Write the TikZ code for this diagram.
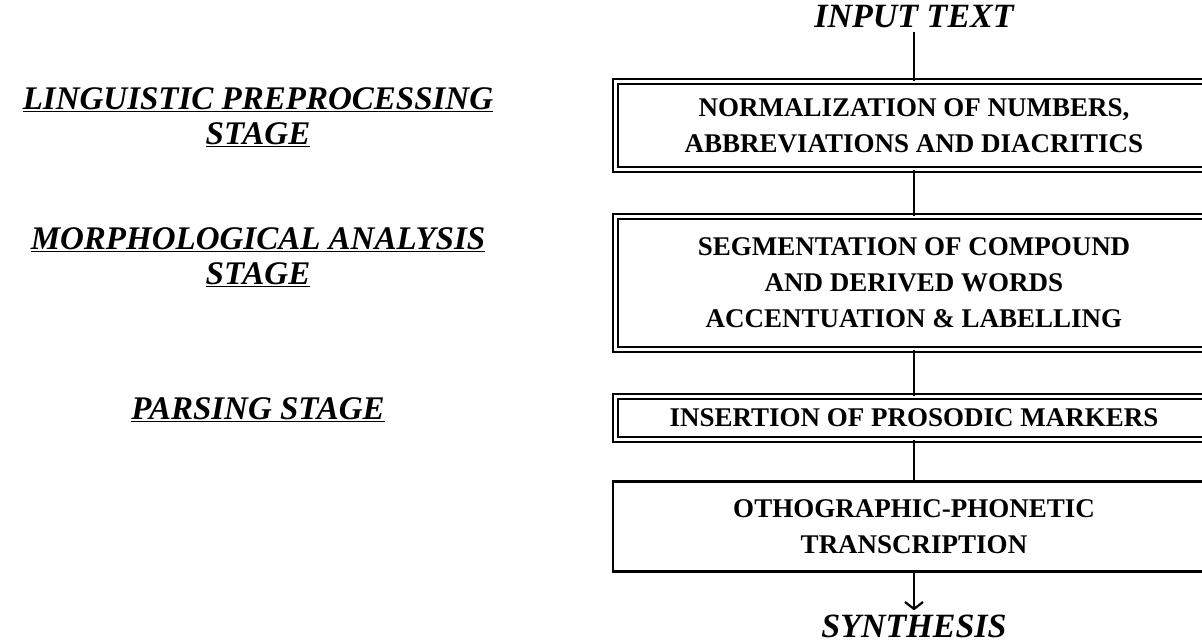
\documentclass[tikz,border=0pt]{standalone}
\usepackage{fontspec}
\setmainfont{Liberation Serif}
\usetikzlibrary{arrows.meta}

\tikzset{
  stagelabel/.style={font=\fontsize{33}{35}\selectfont\bfseries\itshape, align=center, inner sep=0pt},
  endlabel/.style={font=\fontsize{34}{35}\selectfont\bfseries\itshape, inner xsep=0pt, inner ysep=4pt},
  stepbox/.style={draw, double, line width=1.9pt, double distance=2.4pt, minimum width=597pt,
    font=\fontsize{27}{36}\selectfont\bfseries, align=center, inner sep=0pt},
  lastbox/.style={draw, line width=2.6pt, minimum width=602pt,
    font=\fontsize{27}{36}\selectfont\bfseries, align=center, inner sep=0pt},
  flow/.style={line width=2pt}
}

\begin{document}
\begin{tikzpicture}[x=1pt, y=-1pt]
    \useasboundingbox (0,0) rectangle (1202,643);
    \clip (0,0) rectangle (1202,643);

    \node (linguistic-label) at (258,117) [stagelabel] {\underline{LINGUISTIC PREPROCESSING}\\\underline{STAGE}};
    \node (morphological-label) at (258,257) [stagelabel] {\underline{MORPHOLOGICAL ANALYSIS}\\\underline{STAGE}};
    \node (parsing-label) at (258,410) [stagelabel] {\underline{PARSING STAGE}};

    \node (input-text) at (914,17) [endlabel] {INPUT TEXT};

    \node (normalization-box) at (914,125.5) [stepbox, minimum height=88pt] {NORMALIZATION OF NUMBERS,\\ABBREVIATIONS AND DIACRITICS};
    \node (segmentation-box) at (914,283) [stepbox, minimum height=133pt] {SEGMENTATION OF COMPOUND\\AND DERIVED WORDS\\ACCENTUATION \& LABELLING};
    \node (prosodic-box) at (914,418) [stepbox, minimum height=43pt] {INSERTION OF PROSODIC MARKERS};
    \node (transcription-box) at (914,526.5) [lastbox, minimum height=90pt] {OTHOGRAPHIC-PHONETIC\\TRANSCRIPTION};

    \node (synthesis) at (914,626) [endlabel] {SYNTHESIS};

    \draw [flow] (input-text) -- (normalization-box);
    \draw [flow] (normalization-box) -- (segmentation-box);
    \draw [flow] (segmentation-box) -- (prosodic-box);
    \draw [flow] (prosodic-box) -- (transcription-box);
    \draw [flow, -{Straight Barb[length=7pt, width=18pt, line width=2.2pt]}] (transcription-box) -- (synthesis);
  \end{tikzpicture}
\end{document}
